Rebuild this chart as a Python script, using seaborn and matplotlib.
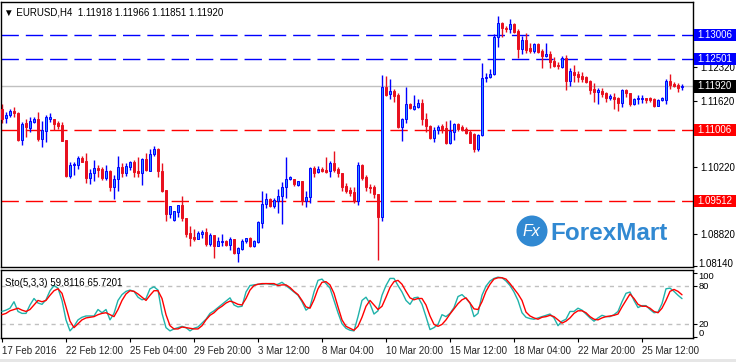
import numpy as np
import matplotlib
matplotlib.use("Agg")
import matplotlib.pyplot as plt
import seaborn as sns
from matplotlib.transforms import blended_transform_factory
from matplotlib.patches import Rectangle, Ellipse

# ---------------- data ----------------
opens = [1.11447,1.11258,1.11321,1.11405,1.11363,1.10796,1.11153,1.11048,1.11174,1.11237,
1.10817,1.10985,1.11237,1.11237,1.11153,1.11111,1.10796,1.10040,1.10271,1.10271,
1.10418,1.10355,1.09998,1.10103,1.10208,1.10187,1.09998,1.10145,1.09809,1.09977,
1.10229,1.10103,1.10229,1.10334,1.10145,1.10103,1.10397,1.10145,1.10502,1.10607,
1.10145,1.09746,1.09242,1.09116,1.09284,1.09431,1.09158,1.08843,1.08759,1.08717,
1.08822,1.08864,1.08612,1.08801,1.08570,1.08654,1.08675,1.08591,1.08717,1.08423,
1.08507,1.08675,1.08738,1.08570,1.08654,1.09053,1.09452,1.09557,1.09410,1.09515,
1.09620,1.09809,1.09977,1.09977,1.09851,1.09935,1.09515,1.09599,1.10208,1.10124,
1.10187,1.10166,1.10145,1.10313,1.10187,1.10103,1.09830,1.09746,1.09704,1.09515,
1.10271,1.10019,1.09809,1.09809,1.09662,1.09179,1.11909,1.11762,1.11825,1.11741,
1.11069,1.11237,1.11552,1.11447,1.11489,1.11573,1.11237,1.11090,1.10838,1.11006,
1.11090,1.11048,1.10733,1.10964,1.11132,1.11069,1.11027,1.10964,1.10922,1.10607,
1.10901,1.12098,1.12119,1.12182,1.12959,1.13253,1.13148,1.13127,1.13232,1.13085,
1.12707,1.12896,1.12728,1.12665,1.12812,1.12665,1.12560,1.12602,1.12455,1.12371,
1.12329,1.12518,1.12035,1.12224,1.12182,1.12140,1.12119,1.12035,1.11867,1.11804,
1.11825,1.11783,1.11678,1.11699,1.11678,1.11573,1.11846,1.11783,1.11552,1.11657,
1.11657,1.11678,1.11678,1.11657,1.11510,1.11636,1.11636,1.12035,1.11972,1.11951,
1.11918]
highs = [1.11552,1.11384,1.11447,1.11489,1.11384,1.11174,1.11237,1.11279,1.11279,1.11384,
1.11195,1.11321,1.11363,1.11237,1.11195,1.11174,1.10796,1.10334,1.10334,1.10460,
1.10460,1.10523,1.10187,1.10376,1.10271,1.10229,1.10271,1.10166,1.10061,1.10460,
1.10313,1.10313,1.10355,1.10376,1.10439,1.10418,1.10523,1.10607,1.10670,1.10628,
1.10313,1.09746,1.09410,1.09305,1.09431,1.09620,1.09158,1.08990,1.08927,1.08885,
1.08906,1.08948,1.08843,1.08801,1.08759,1.08822,1.08696,1.08759,1.08717,1.08549,
1.08717,1.08738,1.08759,1.08696,1.09095,1.09725,1.09683,1.09578,1.09578,1.09767,
1.09914,1.10439,1.10040,1.09977,1.09935,1.09935,1.09725,1.10229,1.10250,1.10250,
1.10229,1.10439,1.10355,1.10565,1.10229,1.10103,1.09893,1.09809,1.09809,1.10334,
1.10292,1.10061,1.09872,1.09851,1.09662,1.12161,1.12140,1.12077,1.11867,1.11783,
1.11258,1.11909,1.11573,1.11741,1.11657,1.11657,1.11363,1.11111,1.11069,1.11111,
1.11132,1.11195,1.11216,1.11153,1.11153,1.11111,1.11069,1.11006,1.10943,1.10922,
1.12413,1.12203,1.12287,1.13022,1.13400,1.13274,1.13190,1.13337,1.13253,1.13127,
1.12980,1.13043,1.12833,1.12833,1.12833,1.12707,1.12833,1.12665,1.12539,1.12434,
1.12560,1.12581,1.12308,1.12371,1.12245,1.12224,1.12140,1.12056,1.11993,1.11888,
1.11888,1.11804,1.11762,1.11783,1.11699,1.11867,1.11867,1.11783,1.11678,1.11741,
1.11741,1.11678,1.11699,1.11678,1.11657,1.11699,1.12077,1.12182,1.12014,1.11993,
1.11966]
lows = [1.11153,1.11153,1.11279,1.11279,1.10775,1.10691,1.10859,1.10964,1.11153,1.10775,
1.10649,1.10754,1.11174,1.11006,1.11027,1.10775,1.10019,1.09998,1.10061,1.10187,
1.10334,1.09893,1.09872,1.09935,1.10019,1.09956,1.09956,1.09725,1.09557,1.09725,
1.10019,1.10040,1.10166,1.10019,1.10019,1.09851,1.10145,1.10145,1.10460,1.10019,
1.09704,1.09095,1.09158,1.09095,1.09179,1.09095,1.08759,1.08570,1.08675,1.08717,
1.08738,1.08570,1.08570,1.08318,1.08570,1.08570,1.08570,1.08486,1.08402,1.08234,
1.08486,1.08633,1.08549,1.08549,1.08633,1.08948,1.09368,1.09389,1.09368,1.09263,
1.09032,1.09578,1.09956,1.09830,1.09830,1.09431,1.09389,1.09473,1.10019,1.10103,
1.10124,1.10103,1.10019,1.10124,1.10019,1.09725,1.09683,1.09620,1.09473,1.09431,
1.09956,1.09725,1.09683,1.09578,1.08276,1.09095,1.11720,1.11657,1.11594,1.11048,
1.10775,1.11153,1.11447,1.11426,1.11468,1.11111,1.10964,1.10817,1.10754,1.10922,
1.10943,1.10712,1.10712,1.10796,1.10985,1.10985,1.10922,1.10733,1.10544,1.10565,
1.10880,1.12014,1.12098,1.12161,1.12749,1.12959,1.13064,1.13043,1.13043,1.12518,
1.12602,1.12623,1.12623,1.12623,1.12623,1.12308,1.12539,1.12308,1.12329,1.12287,
1.12308,1.11846,1.11930,1.12014,1.12014,1.12014,1.11993,1.11762,1.11594,1.11552,
1.11699,1.11594,1.11636,1.11447,1.11405,1.11489,1.11699,1.11510,1.11531,1.11552,
1.11573,1.11573,1.11594,1.11489,1.11510,1.11615,1.11552,1.11867,1.11909,1.11804,
1.11851]
closes = [1.11237,1.11321,1.11405,1.11363,1.10796,1.11132,1.11069,1.11195,1.11237,1.10817,
1.11006,1.11279,1.11279,1.11132,1.11090,1.10775,1.10040,1.10271,1.10292,1.10418,
1.10334,1.09998,1.10103,1.10208,1.10166,1.09998,1.10145,1.09809,1.09977,1.10229,
1.10103,1.10250,1.10334,1.10124,1.10103,1.10397,1.10166,1.10502,1.10607,1.10145,
1.09725,1.09242,1.09410,1.09305,1.09431,1.09158,1.08822,1.08738,1.08717,1.08843,
1.08864,1.08612,1.08801,1.08570,1.08675,1.08675,1.08591,1.08717,1.08423,1.08528,
1.08675,1.08738,1.08570,1.08675,1.09074,1.09452,1.09557,1.09410,1.09536,1.09620,
1.09809,1.09977,1.10019,1.09872,1.09935,1.09515,1.09599,1.10208,1.10103,1.10187,
1.10145,1.10124,1.10313,1.10166,1.10103,1.09809,1.09725,1.09683,1.09515,1.10271,
1.09998,1.09809,1.09788,1.09662,1.09179,1.11909,1.11741,1.11825,1.11720,1.11069,
1.11237,1.11552,1.11468,1.11510,1.11573,1.11237,1.11090,1.10838,1.11006,1.11069,
1.11027,1.10733,1.10985,1.11132,1.11027,1.11006,1.10943,1.10733,1.10607,1.10901,
1.12098,1.12119,1.12182,1.12959,1.13253,1.13148,1.13127,1.13232,1.13064,1.12707,
1.12896,1.12686,1.12665,1.12812,1.12644,1.12560,1.12602,1.12434,1.12350,1.12350,
1.12518,1.12035,1.12245,1.12161,1.12119,1.12077,1.12014,1.11846,1.11804,1.11846,
1.11762,1.11678,1.11720,1.11657,1.11573,1.11846,1.11783,1.11552,1.11657,1.11678,
1.11678,1.11636,1.11636,1.11510,1.11636,1.11678,1.12035,1.11951,1.11930,1.11888,
1.11920]

sto_k = [40,42,45,55,40,37,37,50,60,53,51,58,72,80,76,57,27,10,17,27,
31,33,33,33,43,38,43,27,37,57,66,71,73,71,62,58,60,75,78,73,
37,15,10,13,15,17,15,10,14,16,22,28,37,41,46,51,56,61,50,47,
48,70,80,81,82,82,83,82,81,82,85,80,75,70,65,55,42,47,70,88,
90,83,76,57,38,21,14,11,10,32,57,62,52,36,41,65,80,91,91,80,
70,57,51,61,62,51,32,12,15,20,35,32,37,46,63,66,60,53,32,37,
65,79,87,91,93,92,87,80,70,57,38,31,29,28,30,32,34,36,30,18,
25,28,40,40,45,42,36,30,25,30,34,32,32,35,40,55,68,70,57,46,
49,49,43,38,39,52,75,76,71,65,59.8116]
sto_d = [35,37,41,43,45,42,40,43,50,57,55,57,65,72,75,68,47,25,15,21,
27,30,31,32,35,37,38,35,32,43,57,67,72,71,67,62,57,65,72,72,
60,35,18,13,13,16,15,14,13,13,18,27,34,38,44,48,53,56,54,51,
50,60,73,80,82,83,83,83,83,80,81,81,77,71,66,57,47,45,58,75,
85,86,81,68,47,27,17,14,11,17,31,48,57,50,43,48,62,77,86,88,
82,71,61,58,60,60,50,33,20,17,20,27,36,44,52,58,61,53,44,43,
55,71,82,90,92,92,90,83,75,67,57,39,33,30,28,31,32,34,32,27,
22,25,30,37,41,41,38,32,28,27,30,32,33,34,36,47,57,67,60,51,
48,48,45,40,38,45,57,71,74,71,65.7201]

blue_levels = [1.13006, 1.12501]
red_levels = [1.11006, 1.09512]
last_price = 1.11920
price_ticks = [1.13020, 1.12320, 1.11620, 1.10920, 1.10220, 1.09520, 1.08820, 1.08140]
hidden_ticks = [1.13020, 1.10920, 1.09520]   # covered by the level labels
bottom_tick = 1.08140                         # drawn a touch higher, clear of the panel below
sto_ticks = [0, 20, 80, 100]
x_tick_bars = [1, 17, 33, 49, 65, 81, 97, 113, 129, 145, 161]
x_tick_labels = ["17 Feb 2016", "22 Feb 12:00", "25 Feb 04:00", "29 Feb 20:00",
                 "3 Mar 12:00", "8 Mar 04:00", "10 Mar 20:00", "15 Mar 12:00",
                 "18 Mar 04:00", "22 Mar 20:00", "25 Mar 12:00"]
title_main = "\u25bc EURUSD,H4  1.11918 1.11966 1.11851 1.11920"
title_sto = "Sto(5,3,3) 59.8116 65.7201"

# ---------------- style ----------------
sns.set_theme(style="white")
plt.rcParams["font.family"] = ["Liberation Sans", "DejaVu Sans"]
plt.rcParams["lines.scale_dashes"] = False
FS = 7.0
BLUE = "#0000ff"
BLUE_FILL = "#2b8cff"
RED = "#e8101e"
LRED = "#ff0000"
TEAL = "#20b2aa"
LOGO = "#3189d2"

W, H = 736, 362
fig = plt.figure(figsize=(W / 100, H / 100), dpi=100)
fig.patch.set_facecolor("white")

def box(x0, y0, x1, y1):
    return [x0 / W, 1 - y1 / H, (x1 - x0) / W, (y1 - y0) / H]

ax = fig.add_axes(box(1, 2, 693, 267))
ax2 = fig.add_axes(box(1, 270, 693, 338))

o = np.array(opens); h = np.array(highs); l = np.array(lows); c = np.array(closes)
x = np.arange(1, len(o) + 1)
up = c >= o
dn = ~up

# horizontal levels (behind candles)
for lv in blue_levels:
    ax.axhline(lv, color=BLUE, lw=1.0, ls=(0, (12.5, 5)), zorder=1)
for lv in red_levels:
    ax.axhline(lv, color=LRED, lw=1.0, ls=(0, (12.5, 5)), zorder=1)
ax.axhline(last_price, color="#c0c0c0", lw=1.0, zorder=1)

# candles
ax.vlines(x[up], l[up], h[up], color=BLUE, lw=1.0, zorder=2)
ax.vlines(x[dn], l[dn], h[dn], color=RED, lw=1.0, zorder=2)
ax.bar(x[up], np.maximum(c[up] - o[up], 0.00002), bottom=o[up], width=0.72,
       color=BLUE_FILL, edgecolor=BLUE, linewidth=0.7, zorder=3)
ax.bar(x[dn], np.maximum(o[dn] - c[dn], 0.00002), bottom=c[dn], width=0.72,
       color=RED, edgecolor=RED, linewidth=0.7, zorder=3)

ax.set_xlim(0.75, 173.75)
ax.set_ylim(1.08129, 1.13694)
ax.set_xticks([])
ax.yaxis.tick_right()
ax.set_yticks(price_ticks)
ax.set_yticklabels(["" if (t in hidden_ticks or t == bottom_tick) else f"{t:.5f}"
                    for t in price_ticks])
ax.tick_params(axis="y", right=True, length=3, width=0.8, color="black",
               labelsize=FS, pad=2, labelcolor="black")

trans = blended_transform_factory(ax.transAxes, ax.transData)
ax.text(1.0075, bottom_tick + 0.00045, f"{bottom_tick:.5f}", transform=trans,
        ha="left", va="center", fontsize=FS, color="black", clip_on=False)

# price label boxes
dh = 0.00128
for lv, fc in [(blue_levels[0], BLUE), (blue_levels[1], BLUE),
               (last_price, "black"), (red_levels[0], LRED), (red_levels[1], LRED)]:
    ax.add_patch(Rectangle((1.0015, lv - dh), 0.061, 2 * dh, transform=trans,
                           facecolor=fc, edgecolor="none", clip_on=False, zorder=6))
    ax.text(1.006, lv, f"{lv:.5f}", transform=trans, ha="left", va="center",
            color="white", fontsize=FS, clip_on=False, zorder=7)

ax.text(0.004, 0.962, title_main, transform=ax.transAxes, ha="left", va="center",
        fontsize=FS, color="black", zorder=8)

# watermark logo
fig.patches.append(Ellipse((532 / W, 1 - 231 / H), 31 / W, 31 / H,
                           transform=fig.transFigure, facecolor=LOGO,
                           edgecolor="none", zorder=10))
fig.text(531 / W, 1 - 232 / H, "Fx", ha="center", va="center", color="white",
         fontsize=11.5, fontstyle="italic", zorder=11)
fig.text(550 / W, 1 - 234 / H, "ForexMart", ha="left", va="center",
         color=LOGO, fontsize=17.5, fontweight="bold", zorder=11)

# stochastic
sns.lineplot(x=x, y=sto_k, ax=ax2, color=TEAL, lw=1.0, estimator=None, zorder=3)
sns.lineplot(x=x, y=sto_d, ax=ax2, color=LRED, lw=1.0, estimator=None, zorder=4)
for lv in (80, 20):
    ax2.axhline(lv, color="#c0c0c0", lw=1.0, ls=(0, (3, 3)), zorder=1)
ax2.set_xlim(0.75, 173.75)
ax2.set_ylim(-1, 104)
ax2.yaxis.tick_right()
ax2.set_yticks(sto_ticks)
ax2.set_yticklabels([])
ax2.tick_params(axis="y", right=True, length=3, width=0.8, color="black")
# level captions placed where the terminal shows them (kept apart)
ytr = blended_transform_factory(ax2.transAxes, ax2.transData)
for lab, yv in zip(["100", "80", "20", "0"], [94.5, 78.5, 20.5, 6.5]):
    ax2.text(1.008, yv, lab, transform=ytr, ha="left", va="center",
             fontsize=FS - 0.3, color="black", clip_on=False)
ax2.set_xticks(x_tick_bars)
ax2.set_xticklabels(x_tick_labels, ha="left")
ax2.tick_params(axis="x", bottom=True, length=3, width=0.8, color="black",
                labelsize=FS, pad=3)
ax2.set_xlabel("")
ax2.set_ylabel("")
ax2.text(0.006, 0.81, title_sto, transform=ax2.transAxes, ha="left", va="center",
         fontsize=FS, color="black")

for a in (ax, ax2):
    for s in a.spines.values():
        s.set_color("black")
        s.set_linewidth(1.0)
    a.set_facecolor("white")

fig.patches.append(Rectangle((0, 0), 1, 3 / H, transform=fig.transFigure,
                             facecolor="#e6e6e6", edgecolor="none"))

fig.savefig("out.png", dpi=100, facecolor="white")
